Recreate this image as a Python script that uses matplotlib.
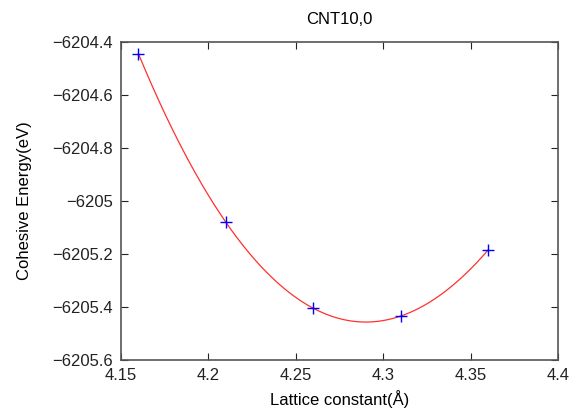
import numpy as np
import matplotlib.pyplot as plt

plt.rcParams['font.family'] = ['Liberation Sans', 'DejaVu Sans']

# lattice constant scan for the (10,0) nanotube
lattice = [4.16, 4.21, 4.26, 4.31, 4.36]
energy = [-6204.445, -6205.080, -6205.405, -6205.434, -6205.185]

coef = np.polyfit(lattice, energy, 3)
xfit = np.linspace(min(lattice), max(lattice), 300)
yfit = np.polyval(coef, xfit)

fig = plt.figure(figsize=(5.82, 4.13), dpi=100)
ax = fig.add_axes([0.2079, 0.1283, 0.7509, 0.7700])

ax.plot(xfit, yfit, color='#ff3030', lw=0.9)
ax.plot(lattice, energy, '+', color='blue', ms=9, mew=1.0)

ax.set_xlim(4.15, 4.4)
ax.set_ylim(-6205.6, -6204.4)
ax.set_xticks([4.15, 4.2, 4.25, 4.3, 4.35, 4.4])
ax.set_xticklabels(['4.15', '4.2', '4.25', '4.3', '4.35', '4.4'])
ax.set_yticks(np.arange(-6205.6, -6204.35, 0.2))
ax.set_yticklabels(['\u22126205.6', '\u22126205.4', '\u22126205.2', '\u22126205',
                    '\u22126204.8', '\u22126204.6', '\u22126204.4'])
ax.tick_params(direction='in', top=True, right=True, length=5, width=0.8,
               labelsize=12, colors='#222222', pad=6)
for s in ax.spines.values():
    s.set_color('#555555')
    s.set_linewidth(1.2)

ax.set_xlabel('Lattice constant(\u00c5)', fontsize=12)
ax.set_ylabel('Cohesive Energy(eV)', fontsize=12)
ax.xaxis.set_label_coords(0.5, -0.095)
ax.yaxis.set_label_coords(-0.204, 0.5)
ax.set_title('CNT10,0', fontsize=12, pad=13)

fig.savefig('out.png', dpi=100)
